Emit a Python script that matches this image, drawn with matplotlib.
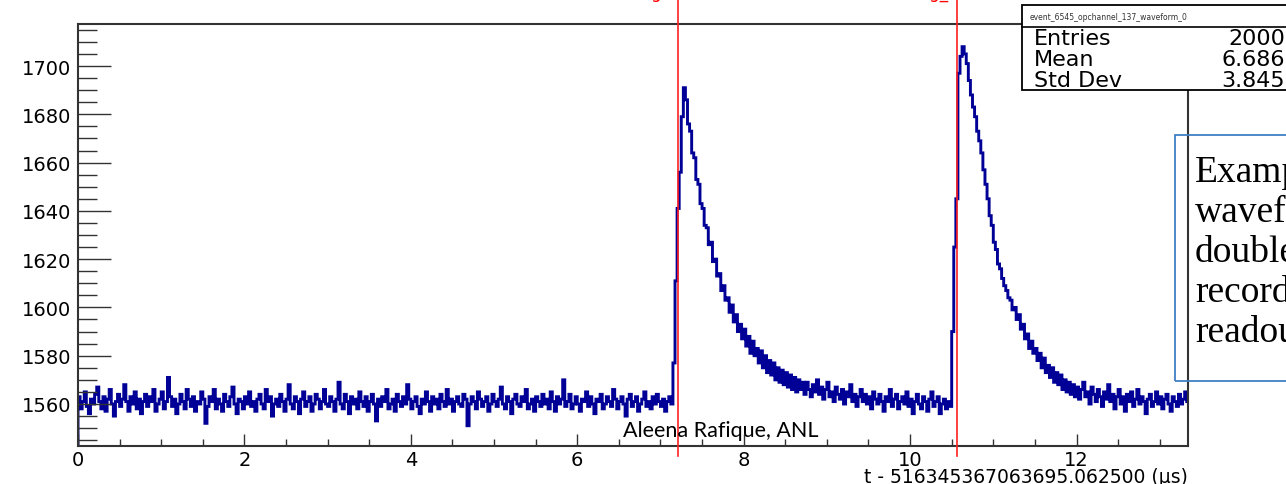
import numpy as np
import matplotlib.pyplot as plt
from matplotlib.patches import Rectangle
from matplotlib.lines import Line2D
from matplotlib.ticker import MultipleLocator

# waveform, one value per 0.025 us bin (ADC counts)
bin_width = 0.025

baseline_pre = [
    1563, 1558, 1561, 1565, 1559, 1556, 1562, 1560, 1564, 1567, 1561, 1558, 1563, 1557, 1562, 1566, 1560, 1555, 1561, 1564,
    1559, 1562, 1568, 1561, 1557, 1563, 1560, 1565, 1558, 1562, 1556, 1561, 1564, 1559, 1563, 1561, 1566, 1557, 1560, 1562,
    1565, 1558, 1561, 1571, 1563, 1559, 1562, 1556, 1560, 1564, 1561, 1558, 1566, 1562, 1559, 1563, 1557, 1561, 1560, 1565,
    1562, 1552, 1559, 1563, 1561, 1566, 1558, 1562, 1560, 1557, 1564, 1561, 1559, 1563, 1567, 1560, 1556, 1562, 1561, 1558,
    1563, 1560, 1565, 1559, 1561, 1557, 1562, 1564, 1560, 1558, 1566, 1561, 1563, 1555, 1560, 1562, 1559, 1564, 1561, 1557,
    1562, 1568, 1560, 1558, 1563, 1561, 1556, 1562, 1565, 1559, 1561, 1563, 1557, 1560, 1564, 1562, 1558, 1561, 1566, 1560,
    1559, 1563, 1561, 1557, 1562, 1569, 1560, 1558, 1564, 1561, 1556, 1563, 1560, 1562, 1558, 1565, 1561, 1559, 1563, 1557,
    1561, 1564, 1560, 1553, 1562, 1559, 1563, 1561, 1566, 1558, 1560, 1562, 1557, 1564, 1561, 1559, 1563, 1560, 1568, 1562,
    1558, 1561, 1563, 1559, 1556, 1562, 1560, 1565, 1561, 1557, 1563, 1560, 1562, 1558, 1564, 1561, 1559, 1566, 1560, 1562,
    1557, 1561, 1563, 1560, 1559, 1564, 1562, 1551, 1560, 1563, 1561, 1558, 1565, 1562, 1559, 1561, 1563, 1557, 1560, 1564,
    1561, 1559, 1562, 1567, 1560, 1558, 1563, 1561, 1556, 1562, 1564, 1560, 1559, 1563, 1561, 1566, 1558, 1560, 1562, 1557,
    1563, 1561, 1559, 1564, 1560, 1562, 1558, 1565, 1561, 1557, 1563, 1560, 1562, 1570, 1559, 1561, 1564, 1558, 1560, 1563,
    1560, 1557, 1562, 1561, 1565, 1559, 1563, 1560, 1556, 1562, 1561, 1564, 1558, 1560, 1563, 1561, 1559, 1566, 1562, 1558,
    1561, 1563, 1560, 1555, 1562, 1564, 1559, 1561, 1563, 1557, 1560, 1562, 1565, 1559, 1561, 1558, 1563, 1560, 1564, 1561,
    1559, 1562, 1557, 1561, 1563, 1560,
]

pulse1 = [
    1577, 1611, 1641, 1656, 1679, 1691, 1686, 1676, 1673, 1664,
    1662, 1653, 1651, 1643, 1641, 1634, 1633, 1626, 1627, 1619,
    1620, 1613, 1614, 1607, 1609, 1603, 1604, 1598, 1601, 1594,
    1597, 1590, 1593, 1587, 1591, 1584, 1588, 1581, 1586, 1580,
    1583, 1577, 1582, 1575, 1580, 1573, 1578, 1572, 1577, 1570,
    1575, 1569, 1574, 1568, 1573, 1567, 1572, 1566, 1571, 1565,
    1570, 1566, 1569,
]

between = [
    1564, 1569, 1566, 1563, 1568, 1565, 1570, 1564, 1567, 1562,
    1566, 1569, 1563, 1565, 1561, 1567, 1564, 1562, 1566, 1560,
    1565, 1563, 1568, 1561, 1564, 1559, 1563, 1566, 1561, 1564,
    1560, 1563, 1558, 1565, 1562, 1560, 1564, 1561, 1557, 1563,
    1561, 1566, 1559, 1562, 1564, 1558, 1561, 1563, 1560, 1565,
    1559, 1562, 1556, 1561, 1564, 1560, 1558, 1563, 1561, 1557,
    1562, 1565, 1559, 1561, 1563, 1556, 1560, 1562, 1558, 1561, 1559,
]

pulse2 = [
    1590, 1625, 1645, 1697, 1704, 1708, 1705, 1701, 1694, 1688,
    1683, 1679, 1673, 1669, 1664, 1657, 1651, 1645, 1638, 1634,
    1627, 1624, 1618, 1616, 1612, 1609, 1607, 1604, 1603, 1599,
    1600, 1595, 1597, 1591, 1593, 1587, 1589, 1583, 1586, 1581,
    1583, 1578, 1581, 1575, 1579, 1573, 1576, 1571, 1575, 1569,
    1573, 1568, 1572, 1566, 1570, 1565, 1569, 1564, 1568, 1563,
    1567,
]

baseline_post = [
    1562, 1566, 1569, 1563, 1565, 1560, 1567, 1564, 1561, 1566,
    1563, 1559, 1565, 1562, 1568, 1561, 1564, 1558, 1563, 1566,
    1560, 1563, 1557, 1564, 1561, 1565, 1559, 1562, 1566, 1560,
    1563, 1561, 1556, 1562, 1564, 1559, 1561, 1565, 1560, 1563,
    1558, 1562, 1564, 1560, 1557, 1563, 1561, 1559, 1564, 1560,
    1562, 1565, 1561,
]

trigger_times = [7.21, 10.565]
stats_title = "event_6545_opchannel_137_waveform_0"
stats_names = ["Entries", "Mean", "Std Dev"]
stats_values = ["2000", "6.686", "3.845"]
note_lines = ["Example", "waveform", "double", "recorded", "readout"]
x_label = "t - 516345367063695.062500 (\u00b5s)"

W, H = 1286, 485


def fx(px):
    return px / W


def fy(py):
    return 1 - py / H


adc = np.array(baseline_pre + pulse1 + between + pulse2 + baseline_post)
edges = np.arange(len(adc) + 1) * bin_width

fig = plt.figure(figsize=(W / 100, H / 100), dpi=100)
ax = fig.add_axes([fx(78), fy(447), fx(1188) - fx(78), fy(25) - fy(447)])

ax.stairs(adc, edges, color='#000096', lw=2.1)

ax.set_xlim(0, 13.34)
ax.set_ylim(1542.6, 1717.4)
ax.xaxis.set_major_locator(MultipleLocator(2))
ax.xaxis.set_minor_locator(MultipleLocator(0.5))
ax.yaxis.set_major_locator(MultipleLocator(20))
ax.yaxis.set_minor_locator(MultipleLocator(5))
ax.tick_params(axis='y', which='major', direction='in', length=24, width=1, color='#333333',
               pad=5, labelsize=14)
ax.tick_params(axis='y', which='minor', direction='in', length=13.5, width=1, color='#333333')
ax.tick_params(axis='x', which='major', direction='in', length=8.5, width=1, color='#333333',
               pad=3, labelsize=14)
ax.tick_params(axis='x', which='minor', direction='in', length=5, width=1, color='#333333')
for sp in ax.spines.values():
    sp.set_color('#333333')
    sp.set_linewidth(1.5)

fig.text(fx(1188), fy(478), x_label, ha='right', va='center', fontsize=13.5)

# red trigger markers, running past the frame
for t in trigger_times:
    ax.axvline(t, ymin=-0.024, ymax=1.07, color='#ff2020', lw=1.2, clip_on=False, zorder=4)
fig.text(fx(662), fy(-2), "Trig", ha='right', va='baseline', color='red', fontsize=12)
fig.text(fx(948), fy(-2), "Trig_", ha='right', va='baseline', color='red', fontsize=12)

fig.text(fx(623), fy(437), "Aleena Rafique, ANL", ha='left', va='baseline',
         family='Lato', fontsize=15.5)

# stats box
fig.patches.append(Rectangle((fx(1022), fy(91)), fx(1320) - fx(1022), fy(6) - fy(91),
                             transform=fig.transFigure, fc='white', ec='black', lw=1.3, zorder=5))
fig.lines.append(Line2D([fx(1022), fx(1320)], [fy(28), fy(28)], transform=fig.transFigure,
                        color='black', lw=1.2, zorder=6))
fig.text(fx(1030), fy(17), stats_title, ha='left', va='center', fontsize=5.5, color='#333333', zorder=7)
for i, (name, val) in enumerate(zip(stats_names, stats_values)):
    yy = fy(39 + 21 * i)
    fig.text(fx(1034), yy, name, ha='left', va='center', fontsize=16, zorder=7)
    fig.text(fx(1285), yy, val, ha='right', va='center', fontsize=16, zorder=7)

# slide text box on the right
fig.patches.append(Rectangle((fx(1175), fy(382)), fx(1320) - fx(1175), fy(136) - fy(382),
                             transform=fig.transFigure, fill=False, ec='#3f7fc4', lw=1.3, zorder=5))
for i, line in enumerate(note_lines):
    fig.text(fx(1195), fy(182 + 40 * i), line, ha='left', va='baseline',
             family='Liberation Serif', fontsize=27, zorder=7)

fig.savefig('out.png', dpi=100)
